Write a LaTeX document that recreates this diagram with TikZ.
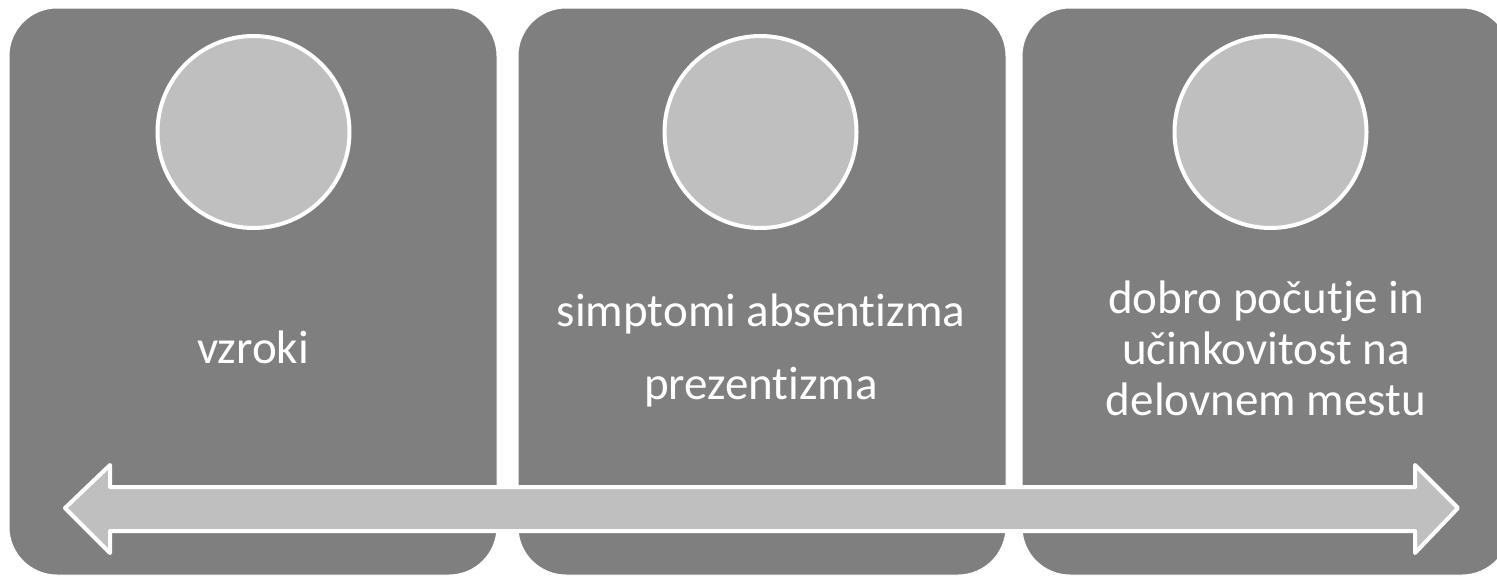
\documentclass[tikz,border=0pt]{standalone}
\usepackage{fontspec}
\setmainfont{Carlito}[RawFeature={-liga;-dlig;-clig;-calt}]
\definecolor{boxgray}{HTML}{7F7F7F}
\definecolor{lightgray}{HTML}{BFBFBF}
\begin{document}
\begin{tikzpicture}[x=1pt,y=-1pt,
  panel/.style={rectangle, rounded corners=48pt, fill=boxgray, draw=white, line width=1pt,
    minimum width=488pt, minimum height=567pt, inner sep=0pt},
  disc/.style={circle, fill=lightgray, draw=white, line width=4pt, minimum size=192pt, inner sep=0pt},
  label/.style={text=white, font=\fontsize{47}{51}\selectfont, align=center, inner sep=0pt},
  arrowshape/.style={fill=lightgray, draw=white, line width=4pt, line join=round}]
\useasboundingbox (0,0) rectangle (1497,576);
\clip (0,0) rectangle (1497,576);
\fill[white] (0,0) rectangle (1497,576);
\node[panel] (p1) at (253,291.5) {};
\node[panel] (p2) at (762,291.5) {};
\node[panel] (p3) at (1266,291.5) {};
\node[disc] (c1) at (253.5,132) {};
\node[disc] (c2) at (760.5,132) {};
\node[disc] (c3) at (1270.5,132) {};
\node[label, anchor=base] (t1) at (253,363) {vzroki};
\node[label] (t2) at (761,350.5) {simptomi absentizma\\[22pt]prezentizma};
\node[label] (t3) at (1266,348.5) {dobro počutje in\\učinkovitost na\\delovnem mestu};
\coordinate (lt) at (65,508);
\coordinate (rt) at (1458,508);
\draw[arrowshape] (lt) -- (110,465) -- (110,487) -- (1415,487) -- (1415,465) -- (rt)
  -- (1415,553) -- (1415,531) -- (110,531) -- (110,553) -- cycle;
\end{tikzpicture}
\end{document}
